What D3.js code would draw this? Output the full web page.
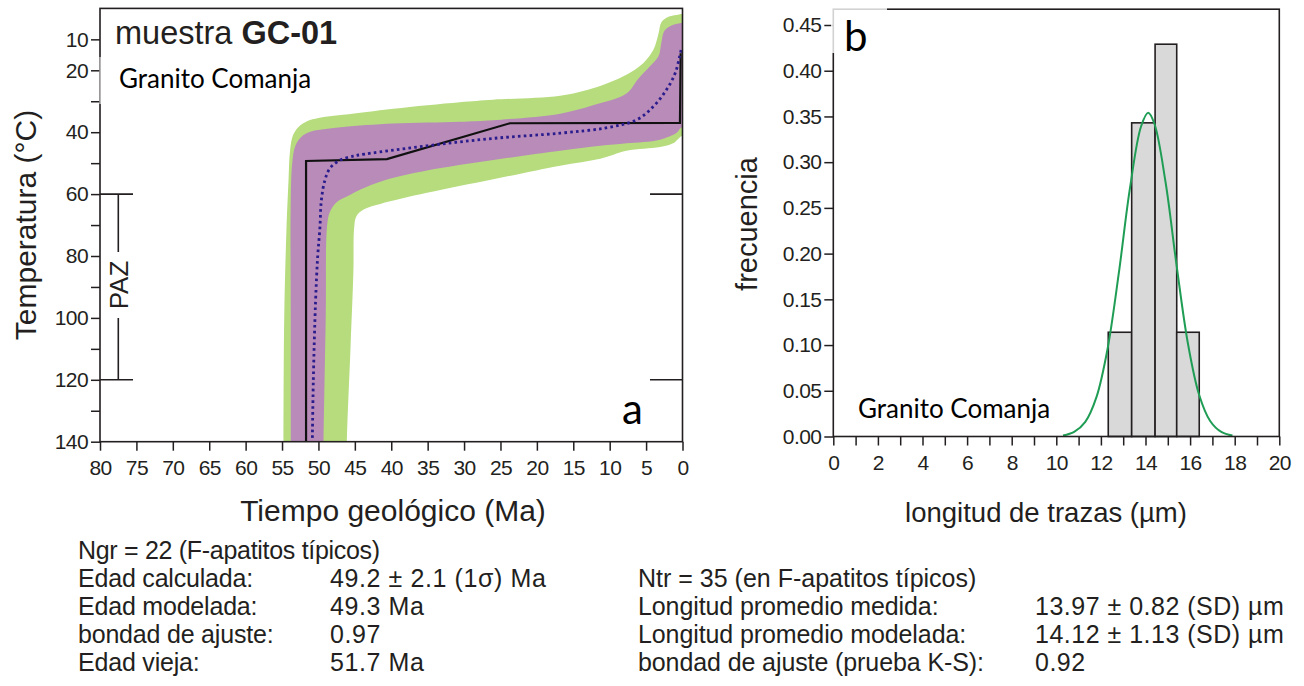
<!DOCTYPE html>
<html>
<head>
<meta charset="utf-8">
<script src="https://cdn.jsdelivr.net/npm/d3@7"></script>
<style>
  html, body { margin: 0; padding: 0; background: #ffffff; }
  svg { display: block; font-family: "Liberation Sans", Arial, Helvetica, sans-serif; }
</style>
</head>
<body>
<svg id="chart" width="1304" height="686"></svg>
<script>
// ---------- Thermal history (HeFTy-style) : time (Ma) vs temperature (°C) ----------
const timeTicks = [80, 75, 70, 65, 60, 55, 50, 45, 40, 35, 30, 25, 20, 15, 10, 5, 0];
const tempTicks = [10, 20, 30, 40, 50, 60, 70, 80, 90, 100, 110, 120, 130, 140];
const tempLabels = [10, 20, 40, 60, 80, 100, 120, 140];
const pazLimits = [60, 120];

// acceptable-fit envelope (outline, [Ma, °C]); the lower part runs past 140 °C and is clipped
const acceptableEnvelope = [
  [54.8, 175], [54.8, 160], [54.8, 140], [54.7, 100], [54.4, 72], [54.1, 55], [53.9, 46],
  [53.5, 41], [52.7, 38.2], [51.5, 36.4], [50.0, 35.4], [46.6, 34.4], [39.7, 32.4],
  [30.6, 30.3], [26.0, 29.5], [16.8, 28.2], [12.3, 25.8], [7.7, 21.4], [5.4, 17.7],
  [4.0, 13.4], [3.3, 8.2], [2.9, 4.5], [2.0, 2.8], [0.8, 2.1], [-0.6, 2.1], [-0.6, 41],
  [0.1, 41.2], [1.3, 43.6], [3.1, 44.8], [7.7, 46.0], [11.3, 48.6], [16.8, 50.8],
  [26.0, 55.2], [35.1, 59.6], [41.5, 63.2], [43.8, 65.0], [44.8, 67.2], [45.1, 71],
  [45.2, 85], [45.6, 110], [46.1, 140], [46.2, 160], [46.2, 175]
];

// good-fit envelope (outline, [Ma, °C])
const goodEnvelope = [
  [53.8, 175], [53.8, 160], [53.8, 140], [53.8, 100], [53.8, 62], [53.6, 50], [53.2, 44.6],
  [52.4, 41.6], [51.0, 39.8], [49.0, 39.0], [46.6, 38.3], [39.7, 37.2], [30.6, 36.6],
  [26.0, 36.1], [16.8, 34.0], [12.3, 31.3], [7.7, 27.5], [6.1, 22.8], [4.5, 18.8],
  [3.3, 15.5], [2.9, 11.0], [2.5, 7.3], [1.5, 5.5], [0.5, 4.9], [-0.6, 4.8], [-0.6, 38.2],
  [0.2, 38.6], [0.8, 40.2], [3.1, 42.4], [7.7, 43.6], [11.3, 44.4], [16.8, 46.0],
  [26.0, 49.0], [35.1, 52.4], [41.0, 55.6], [44.3, 58.6], [46.1, 60.8], [47.5, 62.6],
  [48.4, 65.6], [48.8, 70], [49.0, 100], [49.3, 140], [49.4, 160], [49.4, 175]
];

// best-fit path and weighted mean path ([Ma, °C])
const bestPath = [[51.7, 150], [51.7, 49.3], [40.6, 48.7], [23.7, 37.1], [0.35, 37.0], [0.25, 14.5]];
const meanPath = [
  [50.9, 150], [50.7, 120], [50.4, 95], [50.1, 80], [49.8, 71], [49.6, 62], [49.1, 55.4],
  [48.4, 51.6], [47.0, 49.0], [45.2, 47.7], [44.3, 47.3], [35.1, 44.4], [26.0, 42.0],
  [16.8, 40.3], [10.5, 38.6], [6.3, 36.0], [4.0, 31.7], [2.2, 26.3], [1.0, 20.9],
  [0.4, 15.6], [0.1, 12.5]
];

// ---------- Track-length distribution ----------
const lengthTicks = [0, 1, 2, 3, 4, 5, 6, 7, 8, 9, 10, 11, 12, 13, 14, 15, 16, 17, 18, 19, 20];
const lengthLabels = [0, 2, 4, 6, 8, 10, 12, 14, 16, 18, 20];
const freqTicks = [0, 0.05, 0.10, 0.15, 0.20, 0.25, 0.30, 0.35, 0.40, 0.45];
const binEdges = [12.33, 13.38, 14.43, 15.40, 16.41];
const binFreq = [0.114, 0.343, 0.429, 0.114];
const modelLength = [10.3, 10.8, 11.3, 11.8, 12.3, 12.8, 13.3, 13.8, 14.12, 14.4, 14.9, 15.4, 15.9, 16.4, 16.9, 17.4, 17.9];
const modelFreq = [0.001, 0.005, 0.016, 0.043, 0.096, 0.178, 0.271, 0.339, 0.354, 0.342, 0.278, 0.186, 0.102, 0.046, 0.017, 0.005, 0.001];

// ---------- Summary text ----------
const leftStatsLabels = ["Edad calculada:", "Edad modelada:", "bondad de ajuste:", "Edad vieja:"];
const leftStatsValues = ["49.2 \u00b1 2.1 (1\u03c3) Ma", "49.3 Ma", "0.97", "51.7 Ma"];
const rightStatsLabels = ["Longitud promedio medida:", "Longitud promedio modelada:", "bondad de ajuste (prueba K-S):"];
const rightStatsValues = ["13.97 \u00b1 0.82 (SD) \u00b5m", "14.12 \u00b1 1.13 (SD) \u00b5m", "0.92"];

const INK = "#231f20";
const GREEN_ENV = "#b6dc7e";
const PURPLE_ENV = "#b88bb9";

const svg = d3.select("#chart");

// ================= Panel a =================
const xT = d3.scaleLinear().domain([80, 0]).range([100, 682.5]);
const yT = d3.scaleLinear().domain([0, 140]).range([8.4, 441.7]);

svg.append("clipPath").attr("id", "clipA")
  .append("rect")
  .attr("x", xT(80)).attr("y", yT(0))
  .attr("width", xT(0) - xT(80)).attr("height", yT(140) - yT(0));

const plotA = svg.append("g").attr("clip-path", "url(#clipA)");
const envLine = d3.line().x(d => xT(d[0])).y(d => yT(d[1])).curve(d3.curveCatmullRomClosed.alpha(0.5));

plotA.append("path").attr("d", envLine(acceptableEnvelope)).attr("fill", GREEN_ENV);
plotA.append("path").attr("d", envLine(goodEnvelope)).attr("fill", PURPLE_ENV);

plotA.append("path")
  .attr("d", d3.line().x(d => xT(d[0])).y(d => yT(d[1]))(bestPath))
  .attr("fill", "none").attr("stroke", "#111").attr("stroke-width", 2.2)
  .attr("stroke-linejoin", "miter");

plotA.append("path")
  .attr("d", d3.line().x(d => xT(d[0])).y(d => yT(d[1])).curve(d3.curveCatmullRom.alpha(0.5))(meanPath))
  .attr("fill", "none").attr("stroke", "#2a1c8c").attr("stroke-width", 2.8)
  .attr("stroke-dasharray", "2.6,3.2");

// frame
svg.append("rect")
  .attr("x", xT(80)).attr("y", yT(0))
  .attr("width", xT(0) - xT(80)).attr("height", yT(140) - yT(0))
  .attr("fill", "none").attr("stroke", INK).attr("stroke-width", 1.6);

function styleAxis(g, size) {
  g.select(".domain").remove();
  g.selectAll(".tick line").attr("stroke", INK).attr("stroke-width", 1.5);
  g.selectAll(".tick text").attr("fill", INK).style("font-size", size + "px")
    .style("font-family", '"Liberation Sans", Arial, sans-serif')
    .attr("letter-spacing", "-0.6");
}

svg.append("g")
  .attr("transform", `translate(0,${yT(140)})`)
  .call(d3.axisBottom(xT).tickValues(timeTicks).tickSize(9).tickPadding(9))
  .call(g => styleAxis(g, 21));

svg.append("g")
  .attr("transform", `translate(${xT(80)},0)`)
  .call(d3.axisLeft(yT).tickValues(tempTicks)
    .tickFormat(d => tempLabels.includes(d) ? d : "").tickSize(9).tickPadding(3))
  .call(g => styleAxis(g, 21));

// PAZ bracket, left side, and its markers on the right edge
const pazX = 118.3;
const paz = svg.append("g").attr("stroke", INK).attr("stroke-width", 1.6);
pazLimits.forEach(T => {
  paz.append("line").attr("x1", xT(80)).attr("x2", 133).attr("y1", yT(T)).attr("y2", yT(T));
  paz.append("line").attr("x1", 650).attr("x2", xT(0)).attr("y1", yT(T)).attr("y2", yT(T));
});
paz.append("line").attr("x1", pazX).attr("x2", pazX).attr("y1", yT(pazLimits[0])).attr("y2", 252);
paz.append("line").attr("x1", pazX).attr("x2", pazX).attr("y1", 318).attr("y2", yT(pazLimits[1]));
svg.append("text")
  .attr("transform", `translate(${pazX + 9.5},${285}) rotate(-90)`)
  .attr("text-anchor", "middle").attr("fill", INK)
  .style("font-size", "26px").text("PAZ");

// sample caption
svg.append("rect").attr("x", 99.3).attr("y", 57).attr("width", 225).attr("height", 47)
  .attr("fill", "#ffffff").attr("fill-opacity", 0.6);
const title = svg.append("text").attr("x", 115).attr("y", 44).attr("fill", INK)
  .style("font-size", "32.5px");
title.append("tspan").text("muestra ");
title.append("tspan").attr("font-weight", "bold").text("GC-01");

svg.append("text").attr("x", 119).attr("y", 88).attr("fill", "#000")
  .style("font-family", "Lato, 'Open Sans', sans-serif").style("font-size", "26px")
  .text("Granito Comanja");

svg.append("text").attr("x", 622).attr("y", 424).attr("fill", "#000")
  .style("font-family", "Lato, 'Open Sans', sans-serif").style("font-size", "42px")
  .text("a");

svg.append("text")
  .attr("transform", `translate(36,225) rotate(-90)`)
  .attr("text-anchor", "middle").attr("fill", INK)
  .style("font-size", "30px").text("Temperatura (\u00b0C)");

svg.append("text").attr("x", 393).attr("y", 521).attr("text-anchor", "middle").attr("fill", INK)
  .style("font-size", "30px").text("Tiempo geol\u00f3gico (Ma)");

// ================= Panel b =================
const xL = d3.scaleLinear().domain([0, 20]).range([833.3, 1279.3]);
const yF = d3.scaleLinear().domain([0, 0.45]).range([436.5, 25]);
const frameTopB = 9.2;

const bins = binFreq.map((f, i) => ({ x0: binEdges[i], x1: binEdges[i + 1], f }));
svg.append("g").selectAll("rect").data(bins).join("rect")
  .attr("x", d => xL(d.x0)).attr("y", d => yF(d.f))
  .attr("width", d => xL(d.x1) - xL(d.x0)).attr("height", d => yF(0) - yF(d.f))
  .attr("fill", "#d9d9d9").attr("stroke", INK).attr("stroke-width", 1.6);

const curvePts = modelLength.map((l, i) => [l, modelFreq[i]]);
svg.append("path")
  .attr("d", d3.line().x(d => xL(d[0])).y(d => yF(d[1])).curve(d3.curveCatmullRom.alpha(0.5))(curvePts))
  .attr("fill", "none").attr("stroke", "#1f9d55").attr("stroke-width", 2);

svg.append("rect")
  .attr("x", xL(0)).attr("y", frameTopB)
  .attr("width", xL(20) - xL(0)).attr("height", yF(0) - frameTopB)
  .attr("fill", "none").attr("stroke", INK).attr("stroke-width", 1.6);

svg.append("g")
  .attr("transform", `translate(0,${yF(0)})`)
  .call(d3.axisBottom(xL).tickValues(lengthTicks)
    .tickFormat(d => lengthLabels.includes(d) ? d : "").tickSize(9).tickPadding(10))
  .call(g => styleAxis(g, 21));

svg.append("g")
  .attr("transform", `translate(${xL(0)},0)`)
  .call(d3.axisLeft(yF).tickValues(freqTicks).tickFormat(d3.format(".2f")).tickSize(9).tickPadding(3))
  .call(g => styleAxis(g, 21));

// panel letter with its own white backing
svg.append("rect").attr("x", 831).attr("y", 3).attr("width", 56).attr("height", 50)
  .attr("fill", "#ffffff").attr("fill-opacity", 0.8);
svg.append("text").attr("x", 844).attr("y", 51).attr("fill", "#000")
  .style("font-family", "Lato, 'Open Sans', sans-serif").style("font-size", "42px")
  .text("b");

svg.append("text").attr("x", 858).attr("y", 418).attr("fill", "#000")
  .style("font-family", "Lato, 'Open Sans', sans-serif").style("font-size", "26px")
  .text("Granito Comanja");

svg.append("text")
  .attr("transform", `translate(757,224) rotate(-90)`)
  .attr("text-anchor", "middle").attr("fill", INK)
  .style("font-size", "29px").text("frecuencia");

svg.append("text").attr("x", 1046).attr("y", 522).attr("text-anchor", "middle").attr("fill", INK)
  .style("font-size", "27.5px").text("longitud de trazas (\u00b5m)");

// ================= Summary block =================
const statsFont = "25px";
const lineGap = 28;
const baseY = 559;

function statText(x, y, t, spacing) {
  svg.append("text").attr("x", x).attr("y", y).attr("fill", INK)
    .style("font-size", statsFont).attr("letter-spacing", spacing).text(t);
}

statText(78, baseY, "Ngr = 22 (F-apatitos t\u00edpicos)", "-0.3");
leftStatsLabels.forEach((t, i) => {
  statText(78, baseY + lineGap * (i + 1), t, "-0.2");
  statText(330, baseY + lineGap * (i + 1), leftStatsValues[i], "0.6");
});

statText(638, baseY + lineGap, "Ntr = 35 (en F-apatitos t\u00edpicos)", "0");
rightStatsLabels.forEach((t, i) => {
  statText(638, baseY + lineGap * (i + 2), t, "-0.1");
  statText(1035, baseY + lineGap * (i + 2), rightStatsValues[i], "0.5");
});
</script>
</body>
</html>
